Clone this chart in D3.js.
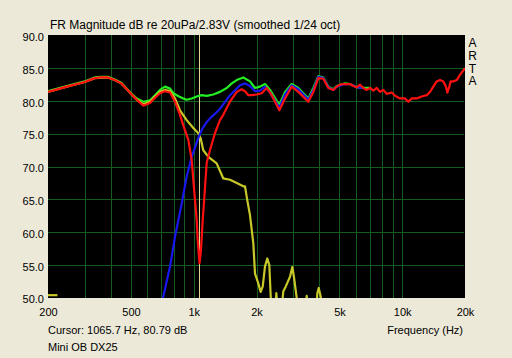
<!DOCTYPE html>
<html><head><meta charset="utf-8">
<script src="https://cdn.jsdelivr.net/npm/d3@7"></script>
<style>
html,body{margin:0;padding:0;background:#ece9d8;}
svg{display:block;}
text{font-family:"Liberation Sans",Arial,sans-serif;fill:#000;}
</style></head><body>
<svg id="chart" width="512" height="358"></svg>
<script>
// ---- data ----
const yTicks = [50, 55, 60, 65, 70, 75, 80, 85, 90];
const xTickValues = [200, 500, 1000, 2000, 5000, 10000, 20000];
const xTickLabels = ["200", "500", "1k", "2k", "5k", "10k", "20k"];
const xGrid = [300, 400, 500, 600, 700, 800, 900, 1000, 2000, 3000, 4000, 5000, 6000, 7000, 8000, 9000, 10000];
const cursorFreq = 1065.7;
const titleText = "FR Magnitude dB re 20uPa/2.83V (smoothed 1/24 oct)";
const cursorText = "Cursor: 1065.7 Hz, 80.79 dB";
const nameText = "Mini OB DX25";
const xAxisTitle = "Frequency (Hz)";
const brand = ["A", "R", "T", "A"];

const green = [[200,81.5],[246,82.3],[300,83.0],[335,83.6],[359,83.7],[388,83.7],[418,83.3],[449,82.8],[500,81.2],[533,80.4],[573,79.9],[617,80.1],[652,80.9],[689,81.7],[728,82.2],[770,81.9],[798,81.2],[850,80.7],[891,80.4],[925,80.2],[978,80.4],[1033,80.7],[1093,80.9],[1154,80.8],[1241,81.0],[1336,81.4],[1440,82.0],[1522,82.7],[1608,83.2],[1729,83.6],[1861,83.0],[1967,82.0],[2078,82.2],[2197,82.6],[2322,81.7],[2573,79.4],[2741,81.4],[2951,82.6],[3174,82.0],[3544,80.4],[3746,82.0],[3958,83.8],[4184,83.6],[4420,82.2],[4670,81.8],[4849,82.3],[5316,82.7],[5616,82.6],[6048,82.1],[6506,82.0],[7006,82.0]];

const yellow = [[200,81.4],[246,82.2],[300,82.9],[335,83.5],[388,83.6],[418,83.2],[449,82.7],[500,81.1],[533,80.2],[573,79.5],[617,79.9],[652,80.7],[689,81.4],[728,81.7],[770,81.5],[813,80.4],[859,78.6],[925,77.1],[995,75.9],[1052,75.1],[1080,74.3],[1111,72.5],[1175,71.5],[1288,70.5],[1386,68.2],[1492,68.0],[1608,67.5],[1729,67.0],[1762,67.0],[1795,65.4],[1861,62.6],[1931,58.3],[1967,53.7],[2040,52.2],[2094,50.9],[2142,51.7],[2197,54.8],[2254,56.0],[2304,55.0],[2340,50.2],[2370,48.5],[2470,48.5],[2490,50.7],[2520,48.5],[2650,49.0],[2690,51.0],[2760,51.7],[2896,53.2],[2971,54.7],[3030,53.0],[3118,50.0],[3150,48.5],[3440,48.5],[3482,50.3],[3520,48.5],[3880,48.5],[3915,50.7],[3976,51.5],[4064,50.2],[4100,48.5]];

const yellowLow = [[200,50.4],[222,50.4]];

const blue = [[700,48.5],[715,50.2],[770,54.8],[813,59.3],[876,64.4],[925,68.5],[978,71.5],[1052,74.4],[1100,75.8],[1154,76.8],[1200,77.4],[1336,78.8],[1492,80.9],[1668,82.4],[1762,82.7],[1861,82.3],[1967,81.5],[2078,81.6],[2197,82.2],[2322,81.3],[2573,79.0],[2741,81.0],[2951,82.4],[3174,81.8],[3544,80.2],[3746,81.7],[3958,83.7],[4184,83.5],[4420,82.1],[4670,81.7],[4849,82.2],[5316,82.6],[5616,82.6],[6048,82.1],[6506,82.0]];

const red = [[200,81.4],[246,82.2],[300,82.9],[335,83.5],[359,83.6],[388,83.6],[418,83.2],[449,82.7],[500,81.1],[533,80.2],[573,79.3],[617,79.7],[652,80.5],[689,81.2],[728,81.5],[770,81.3],[813,79.9],[859,77.9],[891,76.3],[942,74.1],[978,71.0],[995,68.0],[1014,64.9],[1033,61.9],[1045,58.8],[1066,55.3],[1080,56.8],[1093,59.3],[1104,61.9],[1120,64.5],[1133,67.0],[1154,70.6],[1196,72.5],[1264,75.1],[1336,77.1],[1386,77.9],[1492,79.9],[1608,81.4],[1698,81.8],[1762,81.5],[1827,80.9],[1900,80.9],[2004,81.0],[2118,81.2],[2238,82.0],[2366,80.9],[2573,78.6],[2741,80.4],[2951,82.2],[3174,81.4],[3544,79.9],[3746,81.4],[3958,83.5],[4184,83.4],[4420,82.0],[4670,81.7],[4849,82.2],[5030,82.5],[5316,82.6],[5616,82.6],[5826,82.3],[6048,82.1],[6272,82.5],[6506,82.0],[6754,81.7],[7006,82.0],[7266,81.6],[7544,82.0],[7824,81.4],[8114,81.7],[8424,81.1],[8902,81.3],[9234,80.8],[9756,80.4],[10310,80.4],[10692,79.9],[11104,80.4],[11732,80.4],[12398,80.7],[13104,80.9],[13590,81.4],[14094,82.2],[14634,83.0],[15174,83.2],[15740,83.0],[16214,82.2],[16448,81.3],[16816,82.2],[17078,83.0],[17576,83.0],[18250,83.2],[18926,84.0],[20000,85.0]];

// ---- layout ----
const L = 48, R = 465, T = 35, B = 298;
const svg = d3.select("#chart");
const x = d3.scaleLog().domain([200, 20000]).range([L, R]);
const y = d3.scaleLinear().domain([50, 90]).range([297.8, 35.5]);

svg.append("rect").attr("x", L).attr("y", T).attr("width", R - L).attr("height", B - T).attr("fill", "#000");

svg.append("defs").append("clipPath").attr("id", "clip")
  .append("rect").attr("x", L).attr("y", T).attr("width", R - L).attr("height", B - T);

const gridColor = "#175c1f";
const grid = svg.append("g").attr("shape-rendering", "crispEdges");
grid.selectAll("line.v").data(xGrid).join("line")
  .attr("x1", d => Math.round(x(d)) + 0.5).attr("x2", d => Math.round(x(d)) + 0.5)
  .attr("y1", T).attr("y2", B).attr("stroke", gridColor).attr("stroke-width", 1);
grid.selectAll("line.h").data(yTicks.filter(v => v > 50 && v < 90)).join("line")
  .attr("x1", L).attr("x2", R - 1)
  .attr("y1", d => Math.round(y(d)) + 0.5).attr("y2", d => Math.round(y(d)) + 0.5)
  .attr("stroke", gridColor).attr("stroke-width", 1);

const plot = svg.append("g").attr("clip-path", "url(#clip)");
const line = d3.line().x(d => x(d[0])).y(d => y(d[1]));

// cursor line
plot.append("line").attr("x1", Math.round(x(cursorFreq)) + 0.5).attr("x2", Math.round(x(cursorFreq)) + 0.5)
  .attr("y1", T).attr("y2", B).attr("stroke", "#e2d98e").attr("stroke-width", 1)
  .attr("shape-rendering", "crispEdges");

const series = [
  {d: green, c: "#22ee22"},
  {d: yellow, c: "#c8c828"},
  {d: yellowLow, c: "#c8c828"},
  {d: blue, c: "#1818ee"},
  {d: red, c: "#ff1010"}
];
series.forEach(s => {
  plot.append("path").datum(s.d).attr("d", line)
    .attr("fill", "none").attr("stroke", s.c).attr("stroke-width", 2.2)
    .attr("stroke-linejoin", "round");
});

// y axis
const yAxis = svg.append("g").attr("transform", `translate(${L},0)`)
  .call(d3.axisLeft(y).tickValues(yTicks).tickFormat(d3.format(".1f")).tickSize(0).tickPadding(4));
yAxis.select(".domain").remove();
yAxis.selectAll("text").attr("font-size", 11).attr("font-family", '"Liberation Sans",Arial,sans-serif').attr("dy", "0.46em").attr("fill", "#000");

// x axis
const xAxis = svg.append("g").attr("transform", `translate(0,${B})`)
  .call(d3.axisBottom(x).tickValues(xTickValues).tickFormat((d, i) => xTickLabels[i]).tickSize(0).tickPadding(10));
xAxis.select(".domain").remove();
xAxis.selectAll("text").attr("font-size", 11).attr("font-family", '"Liberation Sans",Arial,sans-serif').attr("fill", "#000");

// texts
svg.append("text").attr("x", 50).attr("y", 28.5).attr("font-size", 12).text(titleText);
svg.append("text").attr("x", 48).attr("y", 333.5).attr("font-size", 11).text(cursorText);
svg.append("text").attr("x", 48).attr("y", 351).attr("font-size", 11).text(nameText);
svg.append("text").attr("x", 463).attr("y", 333.5).attr("font-size", 11).attr("text-anchor", "end").text(xAxisTitle);
svg.selectAll("text.brand").data(brand).join("text").attr("class", "brand")
  .attr("x", 472.5).attr("y", (d, i) => 46.7 + i * 12.9)
  .attr("font-size", 12).attr("text-anchor", "middle").text(d => d);
</script>
</body></html>
